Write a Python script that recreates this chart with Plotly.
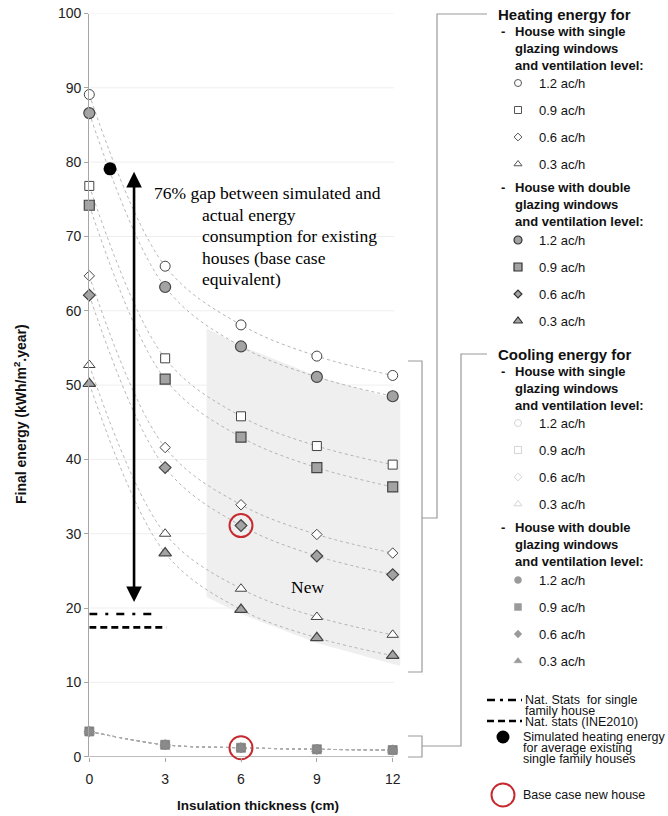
import plotly.graph_objects as go

# ---------------- data ----------------
thickness = [0, 3, 6, 9, 12]
tick_vals_x = [0, 3, 6, 9, 12]

heat_single_12 = [89.1, 66.0, 58.1, 53.9, 51.3]
heat_single_09 = [76.8, 53.6, 45.8, 41.8, 39.3]
heat_single_06 = [64.7, 41.6, 33.9, 29.9, 27.4]
heat_single_03 = [52.7, 30.0, 22.6, 18.8, 16.4]
heat_double_12 = [86.6, 63.2, 55.2, 51.1, 48.5]
heat_double_09 = [74.2, 50.8, 43.0, 38.9, 36.3]
heat_double_06 = [62.1, 38.9, 31.1, 27.0, 24.5]
heat_double_03 = [50.2, 27.4, 19.8, 16.0, 13.6]

cool_single_12 = [3.4, 1.6, 1.2, 1.0, 0.9]
cool_single_09 = [3.4, 1.6, 1.2, 1.0, 0.9]
cool_single_06 = [3.4, 1.6, 1.2, 1.0, 0.9]
cool_single_03 = [3.4, 1.6, 1.2, 1.0, 0.9]
cool_double_12 = [3.4, 1.6, 1.2, 1.0, 0.9]
cool_double_09 = [3.4, 1.6, 1.2, 1.0, 0.9]
cool_double_06 = [3.4, 1.6, 1.2, 1.0, 0.9]
cool_double_03 = [3.4, 1.6, 1.2, 1.0, 0.9]

sim_existing_x = [0.82]
sim_existing_y = [79.1]

base_case_x = [6, 6]
base_case_y = [31.1, 1.2]

nat_single_x = [0, 2.72]
nat_single_y = [19.2, 19.2]
nat_ine_x = [0, 3.05]
nat_ine_y = [17.4, 17.4]

gap_arrow_x = 1.77
gap_arrow_top = 78.7
gap_arrow_bottom = 20.6

shade_x = [4.64, 6, 9, 12.3]
shade_top = [57.6, 55.3, 51.2, 47.9]
shade_bottom = [21.5, 19.2, 15.3, 12.2]

y_ticks = list(range(0, 101, 10))

# ---------------- geometry (pixels) ----------------
W, H = 668, 816
X0PX, X12PX = 89.3, 392.7
Y0PX, Y100PX = 756.7, 13.5
PXCM = (X12PX - X0PX) / 12
XRIGHT_PX = 401.5
XMAX = (XRIGHT_PX - X0PX) / PXCM

GRAY_LINE = "#9a9a9a"
CURVE = "#ababab"
DARK = "#444444"
FILL_D = "#a3a3a3"
RED = "#c62a2f"
FONT = "Liberation Sans, Arial, sans-serif"
SERIF = "Liberation Serif, Times New Roman, serif"

fig = go.Figure()

# shaded "New" region
fig.add_trace(go.Scatter(
    x=shade_x + shade_x[::-1], y=shade_top + shade_bottom[::-1],
    fill="toself", fillcolor="#efefef", mode="lines",
    line=dict(width=0, color="rgba(0,0,0,0)"), hoverinfo="skip"))

heat_series = [
    (heat_single_12, "circle", "white", 10, DARK, 1),
    (heat_single_09, "square", "white", 9, DARK, 1),
    (heat_single_06, "diamond", "white", 8, DARK, 1),
    (heat_single_03, "triangle-up", "white", 10, DARK, 1),
    (heat_double_12, "circle", FILL_D, 11, DARK, 1.2),
    (heat_double_09, "square", FILL_D, 10, DARK, 1.2),
    (heat_double_06, "diamond", FILL_D, 9, DARK, 1.2),
    (heat_double_03, "triangle-up", FILL_D, 11, DARK, 1.2),
]
cool_series = [
    (cool_single_12, "circle", "white", 9, "#d8d8d8", 1),
    (cool_single_09, "square", "white", 9, "#d8d8d8", 1),
    (cool_single_06, "diamond", "white", 8, "#d8d8d8", 1),
    (cool_single_03, "triangle-up", "white", 9, "#d8d8d8", 1),
    (cool_double_12, "circle", "#8a8a8a", 9, "#8a8a8a", 0.5),
    (cool_double_09, "square", "#7f7f7f", 9, "#7f7f7f", 0.5),
    (cool_double_06, "diamond", "#8a8a8a", 8, "#8a8a8a", 0.5),
    (cool_double_03, "triangle-up", "#8a8a8a", 9, "#8a8a8a", 0.5),
]

# trend curves
for vals, *_ in heat_series + cool_series:
    fig.add_trace(go.Scatter(x=thickness, y=vals, mode="lines",
                             line=dict(color=CURVE, width=0.9, dash="dot", shape="spline"),
                             hoverinfo="skip"))

# markers
for vals, sym, fill, size, lc, lw in cool_series + heat_series:
    fig.add_trace(go.Scatter(x=thickness, y=vals, mode="markers", cliponaxis=False,
                             marker=dict(symbol=sym, color=fill, size=size,
                                         line=dict(color=lc, width=lw))))

# national statistics lines
fig.add_trace(go.Scatter(x=nat_single_x, y=nat_single_y, mode="lines",
                         line=dict(color="black", width=2.7, dash="8px,8px,3px,8px")))
fig.add_trace(go.Scatter(x=nat_ine_x, y=nat_ine_y, mode="lines",
                         line=dict(color="black", width=2.7, dash="7px,4px")))

# simulated existing house
fig.add_trace(go.Scatter(x=sim_existing_x, y=sim_existing_y, mode="markers", cliponaxis=False,
                         marker=dict(color="black", size=13)))
# base case new house
fig.add_trace(go.Scatter(x=base_case_x, y=base_case_y, mode="markers", cliponaxis=False,
                         marker=dict(symbol="circle-open", color=RED, size=23,
                                     line=dict(color=RED, width=2))))

# ---------------- legend (overlay pixel axes) ----------------
def lg_marker(px, py, sym, fill, size, lc, lw):
    fig.add_trace(go.Scatter(x=[px], y=[py], mode="markers", xaxis="x2", yaxis="y2",
                             cliponaxis=False,
                             marker=dict(symbol=sym, color=fill, size=size,
                                         line=dict(color=lc, width=lw))))

annotations = []

def txt(px, py, s, size=13, bold=False, anchor="left", font=FONT, color="#111111", angle=0):
    annotations.append(dict(
        x=px, y=py, xref="x2", yref="y2", text=("<b>%s</b>" % s) if bold else s,
        showarrow=False, xanchor=anchor, yanchor="middle", textangle=angle,
        borderpad=0, font=dict(family=font, size=size, color=color)))

levels = ["1.2 ac/h", "0.9 ac/h", "0.6 ac/h", "0.3 ac/h"]
leg_heat_single = [("circle", "white", 7, "#555", 1), ("square", "white", 7, "#555", 1),
                   ("diamond", "white", 6, "#555", 1), ("triangle-up", "white", 7, "#555", 1)]
leg_heat_double = [("circle", FILL_D, 8, "#333", 1.2), ("square", FILL_D, 8, "#333", 1.2),
                   ("diamond", FILL_D, 6, "#333", 1.2), ("triangle-up", FILL_D, 8, "#333", 1.2)]
leg_cool_single = [("circle", "white", 7, "#d5d5d5", 1), ("square", "white", 7, "#d5d5d5", 1),
                   ("diamond", "white", 6, "#d5d5d5", 1), ("triangle-up", "white", 7, "#d5d5d5", 1)]
leg_cool_double = [("circle", "#9a9a9a", 7, "#9a9a9a", 0.5), ("square", "#9a9a9a", 7, "#9a9a9a", 0.5),
                   ("diamond", "#9a9a9a", 6, "#9a9a9a", 0.5), ("triangle-up", "#9a9a9a", 7, "#9a9a9a", 0.5)]

for off, title, single, double in [(0, "Heating energy for", leg_heat_single, leg_heat_double),
                                   (340, "Cooling energy for", leg_cool_single, leg_cool_double)]:
    txt(497, 14 + off, title, size=15, bold=True)
    txt(500, 31 + off, "-", bold=True)
    txt(514, 31 + off, "House with single", bold=True)
    txt(514, 48 + off, "glazing windows", bold=True)
    txt(514, 65 + off, "and ventilation level:", bold=True)
    for i, (lab, st) in enumerate(zip(levels, single)):
        yy = 83 + 27 * i + off
        lg_marker(518, yy, *st)
        txt(538, yy, lab)
    txt(500, 187 + off, "-", bold=True)
    txt(514, 187 + off, "House with double", bold=True)
    txt(514, 204 + off, "glazing windows", bold=True)
    txt(514, 221 + off, "and ventilation level:", bold=True)
    for i, (lab, st) in enumerate(zip(levels, double)):
        yy = 240 + 27 * i + off
        lg_marker(518, yy, *st)
        txt(538, yy, lab)

# bottom legend
fig.add_trace(go.Scatter(x=[487, 522], y=[700, 700], mode="lines", xaxis="x2", yaxis="y2",
                         line=dict(color="black", width=2.7, dash="8px,5px,3px,5px")))
fig.add_trace(go.Scatter(x=[487, 522], y=[721, 721], mode="lines", xaxis="x2", yaxis="y2",
                         line=dict(color="black", width=2.7, dash="7px,4px")))
txt(524, 700, "Nat. Stats  for single", size=12.5)
txt(524, 711, "family house", size=12.5)
txt(524, 722, "Nat. stats (INE2010)", size=12.5)
lg_marker(503, 737, "circle", "black", 13, "black", 0)
txt(522, 737, "Simulated heating energy", size=12.5)
txt(522, 748, "for average existing", size=12.5)
txt(522, 759, "single family houses", size=12.5)
lg_marker(503, 795, "circle-open", RED, 23, RED, 2)
txt(522, 795, "Base case new house", size=12.5)

# chart texts
txt(153, 193, "76% gap between simulated and", size=17.5, font=SERIF, color="#000")
for i, s in enumerate(["actual energy", "consumption for existing", "houses (base case",
                       "equivalent)"]):
    txt(201, 214.5 + 21.5 * i, s, size=17.5, font=SERIF, color="#000")
txt(307, 587, "New", size=17.5, font=SERIF, anchor="center", color="#000")

# axis titles
txt(20, 414, "Final energy (kWh/m<sup>2</sup>.year)", size=14, bold=True, anchor="center",
    color="#111", angle=-90)
txt(258, 805, "Insulation thickness (cm)", size=13.5, bold=True, anchor="center", color="#111")

# gap arrow
annotations.append(dict(
    x=gap_arrow_x, y=gap_arrow_top, ax=gap_arrow_x, ay=gap_arrow_bottom,
    xref="x", yref="y", axref="x", ayref="y", text="", showarrow=True,
    arrowhead=2, startarrowhead=2, arrowside="end+start", arrowsize=1.2,
    startarrowsize=1.2, arrowwidth=2.6, arrowcolor="black", standoff=0, startstandoff=0))

# ---------------- shapes ----------------
shapes = []
for v in y_ticks[1:]:
    shapes.append(dict(type="line", xref="x", yref="y", x0=0, x1=12.05, y0=v, y1=v,
                       line=dict(color="#eeeeee", width=1), layer="below"))
shapes.append(dict(type="line", xref="x", yref="y", x0=0, x1=12.05, y0=0, y1=0,
                   line=dict(color="#a6a6a6", width=1.3), layer="below"))

def bracket(path):
    shapes.append(dict(type="path", xref="x2", yref="y2", path=path,
                       line=dict(color=GRAY_LINE, width=1.2)))

bracket("M487,14 L437,14 L437,518 L422,518")
bracket("M408,361 L422,361 L422,672 L408,672")
bracket("M487,354 L461,354 L461,746 L422,746")
bracket("M408,736 L422,736 L422,757 L408,757")

fig.update_layout(
    width=W, height=H, margin=dict(l=0, r=0, t=0, b=0, pad=0, autoexpand=False),
    paper_bgcolor="white", plot_bgcolor="rgba(0,0,0,0)",
    showlegend=False, annotations=annotations, shapes=shapes,
    xaxis=dict(domain=[X0PX / W, XRIGHT_PX / W], range=[0, XMAX],
               tickvals=tick_vals_x, ticks="outside", ticklen=4, tickcolor="#a6a6a6",
               ticklabelstandoff=5,
               showgrid=False, zeroline=False, showline=False, fixedrange=True,
               automargin=False,
               tickfont=dict(family=FONT, size=14, color="#222")),
    yaxis=dict(domain=[1 - Y0PX / H, 1 - Y100PX / H], range=[0, 100],
               tickvals=y_ticks, ticks="outside", ticklen=4, tickcolor="#a6a6a6",
               showgrid=False, zeroline=False, showline=True, linecolor="#a6a6a6",
               linewidth=1.3, fixedrange=True, automargin=False,
               tickfont=dict(family=FONT, size=14, color="#222")),
    xaxis2=dict(domain=[0, 1], range=[0, W], visible=False, fixedrange=True, anchor="y2",
                automargin=False),
    yaxis2=dict(domain=[0, 1], range=[H, 0], visible=False, fixedrange=True, anchor="x2",
                automargin=False),
)

fig.write_html("out.html")
